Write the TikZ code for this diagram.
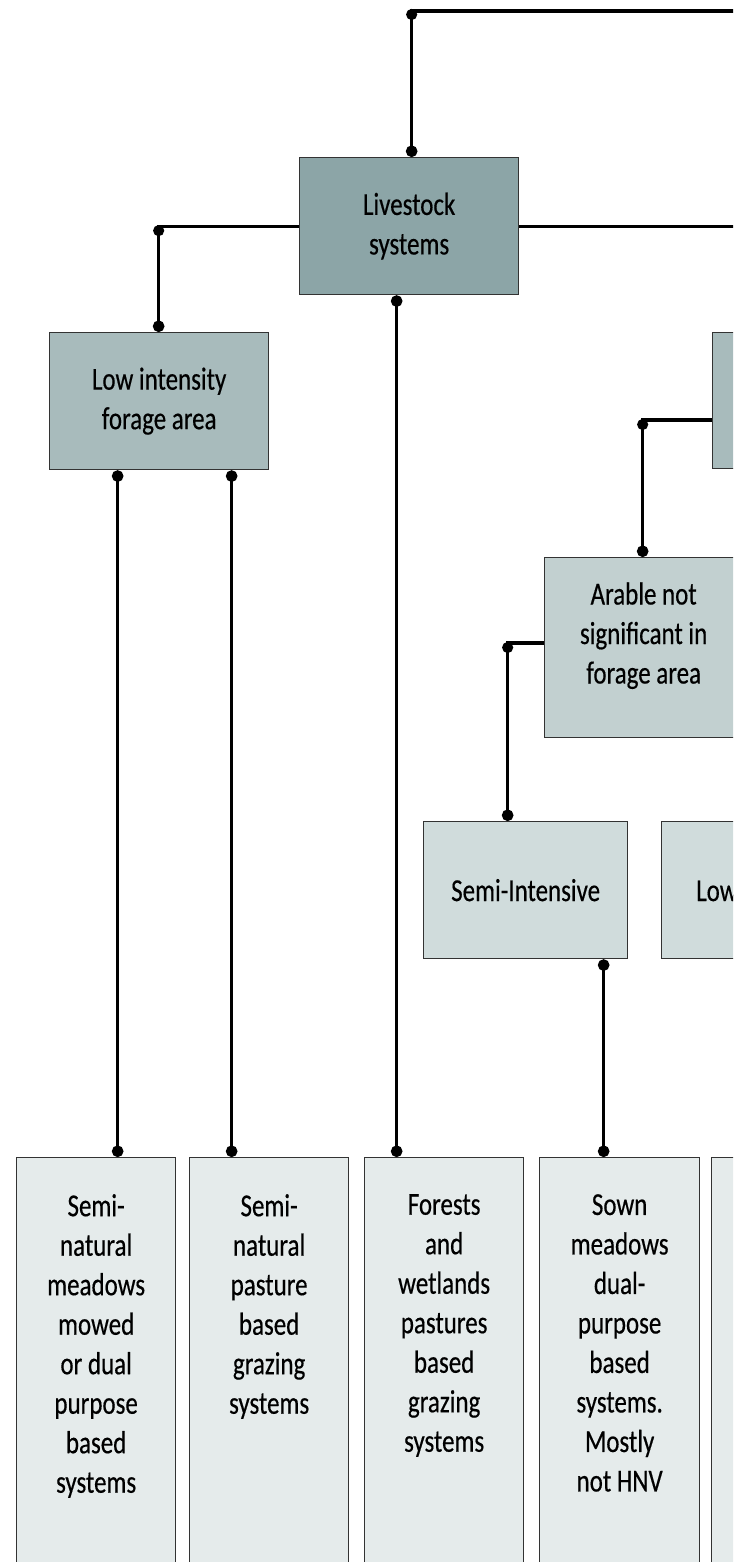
\documentclass[tikz,border=0pt]{standalone}
\usepackage{fontspec}
\setmainfont{Carlito}[FakeStretch=0.78,FakeBold=0.4]
\usetikzlibrary{arrows.meta,calc}
\definecolor{clive}{HTML}{8CA5A7}
\definecolor{cmid}{HTML}{A8BBBC}
\definecolor{carable}{HTML}{C2D0D0}
\definecolor{csemi}{HTML}{D0DCDC}
\definecolor{cbot}{HTML}{E5EBEB}
\definecolor{cedge}{HTML}{333333}
\tikzset{
  boxnode/.style={draw=cedge, line width=1.3pt, inner sep=0pt, anchor=north west, align=center,
    font=\fontsize{32}{39.5}\selectfont},
  txtnode/.style={inner sep=0pt, align=center, font=\fontsize{32}{39.5}\selectfont},
  conn/.style={line width=3.2pt, draw=black},
  dotend/.style={-{Circle[length=11.5pt,width=11.5pt]}},
  dotboth/.style={{Circle[length=11.5pt,width=11.5pt]}-{Circle[length=11.5pt,width=11.5pt]}},
  cornerdot/.style={fill=black}
}
\begin{document}
\begin{tikzpicture}[x=1pt,y=-1pt]
\useasboundingbox (0,0) rectangle (733,1562);
\clip (0,0) rectangle (733,1562);
\fill[white] (0,0) rectangle (733,1562);

% boxes
\node[boxnode, fill=clive, minimum width=219pt, minimum height=137pt] (live) at (299,157) {Livestock\\systems};
\node[boxnode, fill=cmid, minimum width=219pt, minimum height=137pt] (lowint) at (49,332) {Low intensity\\forage area};
\node[boxnode, fill=cmid, minimum width=219pt, minimum height=136pt] (rbox) at (712,332) {};
\node[boxnode, fill=carable, minimum width=198pt, minimum height=180pt] (arable) at (544,557) {};
\node[txtnode] (arabletxt) at ($(arable.center)+(0,-12)$) {Arable not\\significant in\\forage area};
\node[boxnode, fill=csemi, minimum width=204pt, minimum height=137pt] (semi) at (423,821) {Semi-Intensive};
\node[boxnode, fill=csemi, minimum width=204pt, minimum height=137pt] (low) at (661,821) {};
\node[txtnode, anchor=base west] (lowtxt) at (semi.base -| 696,0) {Low};

\node[boxnode, fill=cbot, minimum width=159pt, minimum height=440pt] (b1) at (16,1157) {};
\node[boxnode, fill=cbot, minimum width=159pt, minimum height=440pt] (b2) at (189,1157) {};
\node[boxnode, fill=cbot, minimum width=159pt, minimum height=440pt] (b3) at (364,1157) {};
\node[boxnode, fill=cbot, minimum width=160pt, minimum height=440pt] (b4) at (539,1157) {};
\node[boxnode, fill=cbot, minimum width=160pt, minimum height=440pt] (b5) at (711,1157) {};

\node[txtnode, anchor=north] (t1) at ($(b1.north)+(0,37)$) {Semi-\\natural\\meadows\\mowed\\or dual\\purpose\\based\\systems};
\node[txtnode, anchor=north] (t2) at ($(b2.north)+(0,37)$) {Semi-\\natural\\pasture\\based\\grazing\\systems};
\node[txtnode, anchor=north] (t3) at ($(b3.north)+(0,37)$) {Forests\\and\\wetlands\\pastures\\based\\grazing\\systems};
\node[txtnode, anchor=north] (t4) at ($(b4.north)+(0,37)$) {Sown\\meadows\\dual-\\purpose\\based\\systems.\\Mostly\\not HNV};

% free ends
\coordinate (topright) at (745,11);
\coordinate (midright) at (745,226);

% attachment points on nodes
\coordinate (liveN) at ($(live.north)+(2.5,0)$);
\coordinate (liveS) at ($(live.south)+(-12.5,0)$);
\coordinate (lowN) at ($(lowint.north)+(-0.5,0)$);
\coordinate (lowSa) at ($(lowint.south)+(-41.5,0)$);
\coordinate (lowSb) at ($(lowint.south)+(72.5,0)$);
\coordinate (rboxW) at ($(rbox.north west)+(0,88)$);
\coordinate (arableN) at ($(arable.north)+(-1,0)$);
\coordinate (arableW) at ($(arable.north west)+(0,86)$);
\coordinate (semiN) at ($(semi.north)+(-18,0)$);
\coordinate (semiS) at ($(semi.south)+(78,0)$);

% connectors
\draw[conn, dotend] (topright) -| (liveN);
\fill[cornerdot] ($(liveN |- topright)+(0,3.5)$) circle (5.6pt);

\draw[conn] (live.east) -- (live.east -| midright);

\draw[conn, dotend] (live.west) -| (lowN);
\fill[cornerdot] ($(lowN |- live.west)+(0,4.5)$) circle (5.6pt);

\draw[conn, dotboth] (liveS) -- (liveS |- b3.north);

\draw[conn, dotboth] (lowSa) -- (lowSa |- b1.north);
\draw[conn, dotboth] (lowSb) -- (lowSb |- b2.north);

\draw[conn, dotend] (rboxW) -| (arableN);
\fill[cornerdot] ($(arableN |- rboxW)+(0,4.5)$) circle (5.6pt);

\draw[conn, dotend] (arableW) -| (semiN);
\fill[cornerdot] ($(semiN |- arableW)+(0,4.5)$) circle (5.6pt);

\draw[conn, dotboth] (semiS) -- (semiS |- b4.north);
\end{tikzpicture}
\end{document}
